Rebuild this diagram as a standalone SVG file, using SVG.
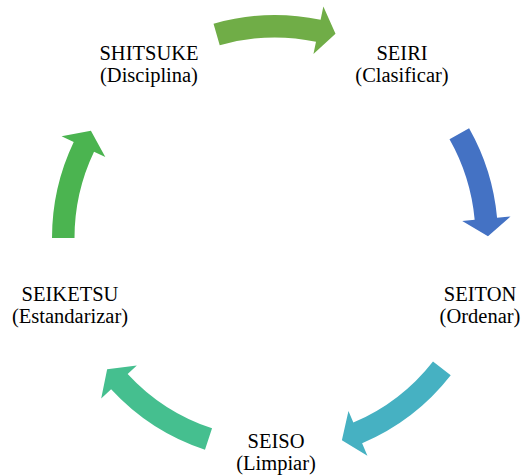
<svg xmlns="http://www.w3.org/2000/svg" width="525" height="476" viewBox="0 0 525 476">
<style>
.lbl{font-family:"Liberation Serif","Times New Roman",serif;font-size:20.5px;fill:#000;text-anchor:middle}
</style>
<rect width="525" height="476" fill="#fff"/>
<g id="connectors">
<path id="arrow-shitsuke-seiri" fill="#70AD47" d="M213.53,23.64 A223,223 0 0 1 320.60,19.71 L323.36,6.50 L335.50,33.77 L313.45,53.97 L316.00,41.74 A200.5,200.5 0 0 0 219.73,45.27 Z"/>
<path id="arrow-seiri-seiton" fill="#4472C4" d="M469.09,128.19 A223,223 0 0 1 497.08,217.79 L510.53,216.57 L487.99,236.14 L462.23,220.96 L474.67,219.83 A200.5,200.5 0 0 0 449.51,139.27 Z"/>
<path id="arrow-seiton-seiso" fill="#46B1C2" d="M450.73,375.29 A223,223 0 0 1 362.13,443.27 L367.41,455.70 L341.88,440.23 L348.46,411.05 L353.34,422.56 A200.5,200.5 0 0 0 433.00,361.44 Z"/>
<path id="arrow-seiso-seiketsu" fill="#45BF8F" d="M204.98,449.72 A223,223 0 0 1 111.11,389.23 L101.19,398.38 L107.15,369.14 L136.84,365.49 L127.65,373.97 A200.5,200.5 0 0 0 212.05,428.36 Z"/>
<path id="arrow-seiketsu-shitsuke" fill="#4BB450" d="M52,238 A223,223 0 0 1 73.72,142.00 L61.54,136.18 L90.91,130.86 L105.31,157.06 L94.03,151.68 A200.5,200.5 0 0 0 74.5,238 Z"/>
</g>
<g id="node-seiri">
<text class="lbl" x="402" y="59.5">SEIRI</text>
<text class="lbl" x="402" y="81.5">(Clasificar)</text>
</g>
<g id="node-seiton">
<text class="lbl" x="480" y="300.5">SEITON</text>
<text class="lbl" x="480" y="322.5">(Ordenar)</text>
</g>
<g id="node-seiso">
<text class="lbl" x="276" y="447.5">SEISO</text>
<text class="lbl" x="276" y="469.5">(Limpiar)</text>
</g>
<g id="node-seiketsu">
<text class="lbl" x="70" y="300.5">SEIKETSU</text>
<text class="lbl" x="70" y="322.5">(Estandarizar)</text>
</g>
<g id="node-shitsuke">
<text class="lbl" x="149" y="59.5">SHITSUKE</text>
<text class="lbl" x="149" y="81.5">(Disciplina)</text>
</g>
</svg>
